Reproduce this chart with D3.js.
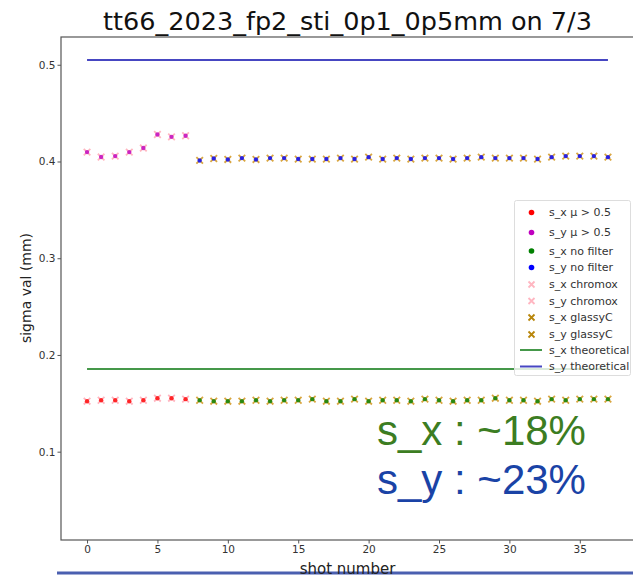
<!DOCTYPE html>
<html>
<head>
<meta charset="utf-8">
<script src="https://cdn.jsdelivr.net/npm/d3@7/dist/d3.min.js"></script>
<style>
  body { margin: 0; background: #fff; }
  text { font-family: "DejaVu Sans", sans-serif; }
</style>
</head>
<body>
<script>
var w = 633, h = 578;
var margin = { top: 37, right: -1, bottom: 38, left: 61 };

// data
var shots = d3.range(0, 38);
var sxVals = [0.1522, 0.1532, 0.1532, 0.1522, 0.1532, 0.1553, 0.1553, 0.1543,
  0.1532, 0.1522, 0.1522, 0.1522, 0.1532, 0.1522, 0.1532, 0.1532, 0.1543, 0.1522,
  0.1522, 0.1543, 0.1522, 0.1532, 0.1532, 0.1522, 0.1543, 0.1532, 0.1522, 0.1532,
  0.1532, 0.1553, 0.1532, 0.1532, 0.1522, 0.1543, 0.1532, 0.1543, 0.1543, 0.1543];
var syVals = [0.4097, 0.4046, 0.4056, 0.4097, 0.4139, 0.4279, 0.4255, 0.4266,
  0.4011, 0.4031, 0.4021, 0.4035, 0.4021, 0.4035, 0.4035, 0.4025, 0.4025, 0.4025,
  0.4035, 0.4025, 0.4045, 0.4025, 0.4035, 0.4025, 0.4035, 0.4035, 0.4025, 0.4035,
  0.4045, 0.4035, 0.4035, 0.4035, 0.4025, 0.4045, 0.4056, 0.4056, 0.4056, 0.4045];
var chromoxCount = 8; // shots 0-7 chromox, rest glassyC
var sxTheory = 0.1856;
var syTheory = 0.5049;
var xTicks = [0, 5, 10, 15, 20, 25, 30, 35];
var yTicks = [0.1, 0.2, 0.3, 0.4, 0.5];
var legendItems = [
  { label: "s_x μ > 0.5", kind: "dot", color: "red" },
  { label: "s_y μ > 0.5", kind: "dot", color: "#bf00bf" },
  { label: "s_x no filter", kind: "dot", color: "green" },
  { label: "s_y no filter", kind: "dot", color: "blue" },
  { label: "s_x chromox", kind: "x", color: "#ffb6c1" },
  { label: "s_y chromox", kind: "x", color: "#ffb6c1" },
  { label: "s_x glassyC", kind: "x", color: "#b8860b" },
  { label: "s_y glassyC", kind: "x", color: "#b8860b" },
  { label: "s_x theoretical", kind: "line", color: "#45984a" },
  { label: "s_y theoretical", kind: "line", color: "#4646c2" }
];

var svg = d3.select("body").append("svg")
  .attr("width", w).attr("height", h);

var x = d3.scaleLinear().domain([-1.85, 38.85]).range([margin.left, w - margin.right]);
var y = d3.scaleLinear().domain([0.0087, 0.5287]).range([h - margin.bottom, margin.top]);

// frame
svg.append("rect")
  .attr("x", margin.left).attr("y", margin.top)
  .attr("width", w - margin.right - margin.left)
  .attr("height", h - margin.bottom - margin.top)
  .attr("fill", "none").attr("stroke", "#555").attr("stroke-width", 1.2);

// axes
var gx = svg.append("g")
  .attr("transform", "translate(0," + (h - margin.bottom) + ")")
  .call(d3.axisBottom(x).tickValues(xTicks).tickSize(3.5).tickPadding(2));
var gy = svg.append("g")
  .attr("transform", "translate(" + margin.left + ",0)")
  .call(d3.axisLeft(y).tickValues(yTicks).tickFormat(d3.format(".1f")).tickSize(3.5).tickPadding(2));
[gx, gy].forEach(function (g) {
  g.select(".domain").remove();
  g.selectAll("line").attr("stroke", "#555");
  g.selectAll("text").attr("fill", "#333").style("font-size", "10.5px")
    .style("font-family", "DejaVu Sans");
});

// theoretical lines
svg.append("line")
  .attr("x1", x(0)).attr("x2", x(37))
  .attr("y1", y(sxTheory)).attr("y2", y(sxTheory))
  .attr("stroke", "#45984a").attr("stroke-width", 2);
svg.append("line")
  .attr("x1", x(0)).attr("x2", x(37))
  .attr("y1", y(syTheory)).attr("y2", y(syTheory))
  .attr("stroke", "#4646c2").attr("stroke-width", 2);

function drawX(g, cx, cy, s, color) {
  g.append("path")
    .attr("d", "M" + (cx - s) + "," + (cy - s) + "L" + (cx + s) + "," + (cy + s) +
      "M" + (cx - s) + "," + (cy + s) + "L" + (cx + s) + "," + (cy - s))
    .attr("stroke", color).attr("stroke-width", 1.8).attr("fill", "none");
}

var pts = svg.append("g");
[sxVals, syVals].forEach(function (vals, k) {
  shots.forEach(function (s, i) {
    var cx = x(s), cy = y(vals[i]);
    var early = i < chromoxCount;
    drawX(pts, cx, cy, 3.3, early ? "#ffb6c1" : "#d9a640");
    var col;
    if (k === 0) col = early ? "red" : "green";
    else col = early ? "#bf00bf" : "blue";
    pts.append("circle").attr("cx", cx).attr("cy", cy).attr("r", 2.2)
      .attr("fill", col).attr("opacity", 0.8);
  });
});

// legend
var lg = svg.append("g");
lg.append("rect")
  .attr("x", 514.5).attr("y", 200.5).attr("width", 116).attr("height", 175)
  .attr("rx", 2).attr("fill", "#fff").attr("fill-opacity", 0.8)
  .attr("stroke", "#ddd");
var legY = [212.5, 232.5, 251, 267.5, 284.5, 301, 317.5, 334.5, 350, 366.5];
legendItems.forEach(function (d, i) {
  var cy = legY[i];
  if (d.kind === "dot") {
    lg.append("circle").attr("cx", 531.5).attr("cy", cy).attr("r", 2.8).attr("fill", d.color);
  } else if (d.kind === "x") {
    drawX(lg, 531.5, cy, 3, d.color);
  } else {
    lg.append("line").attr("x1", 520).attr("x2", 542).attr("y1", cy).attr("y2", cy)
      .attr("stroke", d.color).attr("stroke-width", 2);
  }
  lg.append("text").attr("x", 549).attr("y", cy + 3.8)
    .attr("fill", "#333").style("font-size", "11px").text(d.label);
});

// titles
svg.append("text")
  .attr("x", (margin.left + w - margin.right) / 2).attr("y", 30)
  .attr("text-anchor", "middle").attr("fill", "#111")
  .style("font-size", "25.5px").text("tt66_2023_fp2_sti_0p1_0p5mm on 7/3");
svg.append("text")
  .attr("transform", "translate(31,288) rotate(-90)")
  .attr("text-anchor", "middle").attr("fill", "#222")
  .style("font-size", "14px").text("sigma val (mm)");

// slide underline
svg.append("line")
  .attr("x1", 57).attr("x2", 633).attr("y1", 573).attr("y2", 573)
  .attr("stroke", "#4a5fb0").attr("stroke-width", 3);
svg.append("text")
  .attr("x", (margin.left + w - margin.right) / 2).attr("y", 574)
  .attr("text-anchor", "middle").attr("fill", "#222")
  .style("font-size", "15px").text("shot number");

// annotation
svg.append("text").attr("x", 377).attr("y", 445)
  .attr("fill", "#3c7d22").style("font-family", "Liberation Sans, Arial, sans-serif")
  .style("font-size", "42px").text("s_x : ~18%");
svg.append("text").attr("x", 377).attr("y", 494)
  .attr("fill", "#1a43a6").style("font-family", "Liberation Sans, Arial, sans-serif")
  .style("font-size", "42px").text("s_y : ~23%");
</script>
</body>
</html>
